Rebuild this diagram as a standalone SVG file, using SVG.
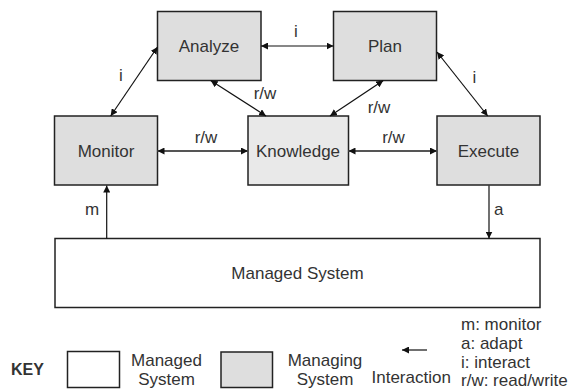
<svg xmlns="http://www.w3.org/2000/svg" width="574" height="391" viewBox="0 0 574 391">
<defs>
<style>
text{font-family:"Liberation Sans",Arial,sans-serif;font-size:17px;fill:#333}
.c{text-anchor:middle}
.box{fill:#dedede;stroke:#222;stroke-width:1.5}
.kn{fill:#e9e9e9;stroke:#222;stroke-width:1.5}
.ms{fill:#fff;stroke:#222;stroke-width:1.5}
.ln{stroke:#111;stroke-width:1.2;fill:none}
.hl{stroke:#555;stroke-width:2;fill:none}
</style>
<marker id="ah" viewBox="0 0 10 10" refX="10" refY="5" markerWidth="7" markerHeight="7" markerUnits="userSpaceOnUse" orient="auto-start-reverse">
<path d="M0,0 L10,5 L0,10 z" fill="#111"/>
</marker>
</defs>
<g id="managed-system"><rect class="ms" x="55" y="238.5" width="485" height="69"/><text class="c" x="297.5" y="279">Managed System</text></g>
<g id="analyze"><rect class="box" x="157.5" y="11.5" width="103.5" height="69"/><text class="c" x="209" y="52">Analyze</text></g>
<g id="plan"><rect class="box" x="333.5" y="11.5" width="103" height="69"/><text class="c" x="385" y="52">Plan</text></g>
<g id="monitor"><rect class="box" x="54.5" y="116" width="103" height="69"/><text class="c" x="106" y="157">Monitor</text></g>
<g id="knowledge"><rect class="kn" x="248" y="116" width="100.5" height="69"/><text class="c" x="298" y="157">Knowledge</text></g>
<g id="execute"><rect class="box" x="437" y="116" width="103" height="69"/><text class="c" x="488.5" y="157">Execute</text></g>
<g id="connectors">
<line class="ln" x1="261" y1="46" x2="333.5" y2="46" marker-start="url(#ah)" marker-end="url(#ah)"/>
<text class="c" x="296" y="37">i</text>
<line class="ln" x1="110.7" y1="116" x2="157.5" y2="47" marker-start="url(#ah)" marker-end="url(#ah)"/>
<text class="c" x="121" y="81">i</text>
<line class="ln" x1="437" y1="52" x2="487.7" y2="116" marker-start="url(#ah)" marker-end="url(#ah)"/>
<text class="c" x="474.5" y="82.5">i</text>
<line class="ln" x1="210.7" y1="80.5" x2="266" y2="116" marker-start="url(#ah)" marker-end="url(#ah)"/>
<text class="c" x="265" y="99">r/w</text>
<line class="ln" x1="383.3" y1="80.5" x2="330" y2="116" marker-start="url(#ah)" marker-end="url(#ah)"/>
<text class="c" x="379" y="112.5">r/w</text>
<line class="hl" x1="157.5" y1="151" x2="248" y2="151" marker-start="url(#ah)" marker-end="url(#ah)"/>
<text class="c" x="206" y="143">r/w</text>
<line class="hl" x1="348.5" y1="151" x2="437" y2="151" marker-start="url(#ah)" marker-end="url(#ah)"/>
<text class="c" x="393.5" y="143">r/w</text>
<line class="ln" x1="106.7" y1="238.5" x2="106.7" y2="185.5" marker-end="url(#ah)"/>
<text class="c" x="92" y="215">m</text>
<line class="ln" x1="489" y1="185.5" x2="489" y2="238.5" marker-end="url(#ah)"/>
<text x="494" y="215">a</text>
</g>
<g id="key">
<text x="11" y="375" style="font-weight:bold;font-size:16px">KEY</text>
<rect class="ms" x="67.5" y="351.5" width="52" height="36"/>
<text class="c" x="166.5" y="365.5">Managed</text>
<text class="c" x="166.5" y="384.5">System</text>
<rect class="box" x="221" y="352" width="51.5" height="35.5"/>
<text class="c" x="325" y="366">Managing</text>
<text class="c" x="325" y="385">System</text>
<line class="ln" x1="427" y1="350" x2="402" y2="350" marker-end="url(#ah)"/>
<text x="371.5" y="383">Interaction</text>
<text x="461" y="330">m: monitor</text>
<text x="461" y="349">a: adapt</text>
<text x="461" y="368">i: interact</text>
<text x="461" y="386">r/w: read/write</text>
</g>
</svg>
